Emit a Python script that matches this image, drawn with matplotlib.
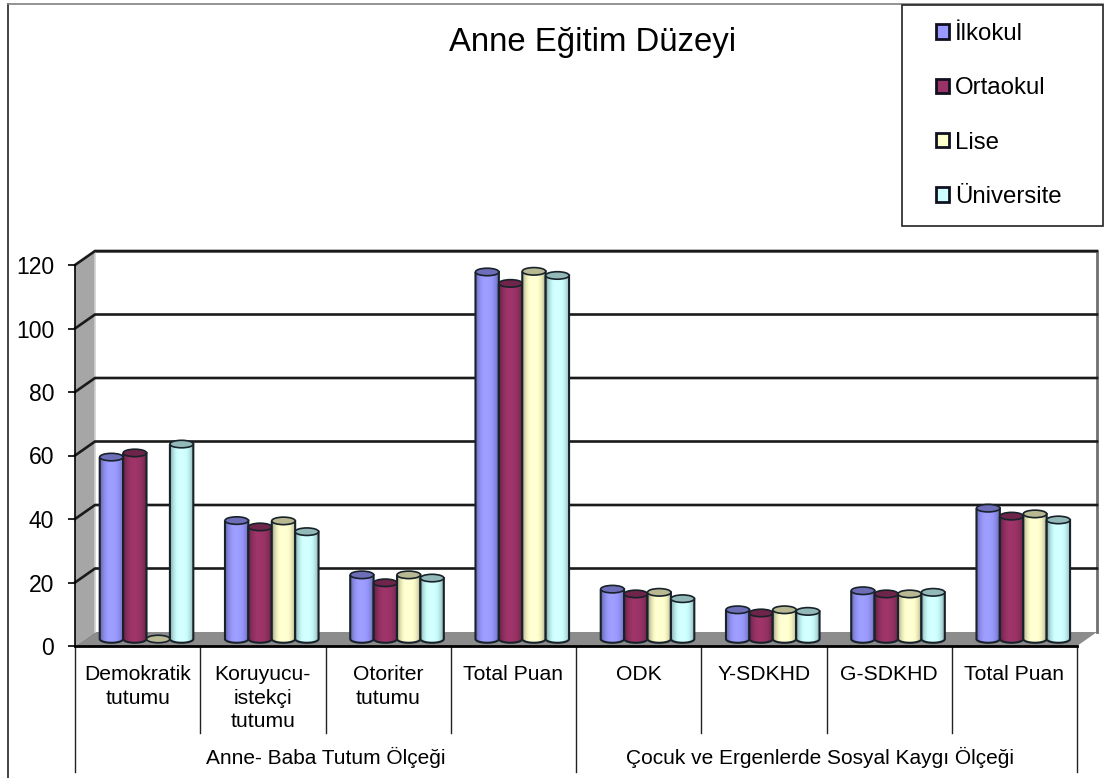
import numpy as np
import matplotlib
matplotlib.use("Agg")
import matplotlib.pyplot as plt
from matplotlib.patches import Polygon, Ellipse, Rectangle, Patch, PathPatch
from matplotlib.path import Path
from matplotlib.colors import to_rgb

plt.rcParams['font.family'] = ['Liberation Sans', 'DejaVu Sans']

title = "Anne Eğitim Düzeyi"
categories = ["Demokratik\ntutumu", "Koruyucu-\nistekçi\ntutumu", "Otoriter\ntutumu", "Total Puan",
              "ODK", "Y-SDKHD", "G-SDKHD", "Total Puan"]
groups = ["Anne- Baba Tutum Ölçeği", "Çocuk ve Ergenlerde Sosyal Kaygı Ölçeği"]
group_centers = [2.0, 5.95]
series = ["İlkokul", "Ortaokul", "Lise", "Üniversite"]
ilkokul = [57.3, 37.3, 20.2, 115.6, 15.7, 9.2, 15.2, 41.2]
ortaokul = [58.6, 35.3, 17.7, 112, 14.2, 8.2, 14.2, 38.7]
lise = [0, 37.2, 20.2, 115.8, 14.7, 9.2, 14.2, 39.4]
universite = [61.4, 33.8, 19.2, 114.5, 12.7, 8.7, 14.7, 37.5]
values = [ilkokul, ortaokul, lise, universite]
colors = ["#9999FF", "#993366", "#FFFFCC", "#CCFFFF"]
yticks = [0, 20, 40, 60, 80, 100, 120]

W, H = 1105, 778
L, R, B, T = 75, 1077, 646, 265          # front plane in pixels
fig = plt.figure(figsize=(W / 100, H / 100), dpi=100, facecolor="white")
ax = fig.add_axes([L / W, 1 - B / H, (R - L) / W, (B - T) / H])
ax.patch.set_visible(False)

sx = (R - L) / 8        # px per category
sy = (B - T) / 120      # px per value
dx, dy = 20 / sx, 14 / sy    # chart depth
bw = 23.4 / sx          # bar width
eh = 7.5 / sy           # cap height
GREY = "#A6A6A6"

# walls and floor
ax.add_patch(Polygon([(0, 0), (dx, dy), (dx, 120 + dy), (0, 120)], fc=GREY, ec="none", zorder=1, clip_on=False))
ax.add_patch(Polygon([(0, 0), (8, 0), (8 + dx, dy), (dx, dy)], fc="#8C8C8C", ec="none", zorder=1, clip_on=False))
ax.plot([dx, 8 + dx, 8 + dx], [120 + dy, 120 + dy, dy], color="#707070", lw=2.0, zorder=1.5, clip_on=False)
ax.plot([dx, dx], [dy, 120 + dy], color="#D0D0D0", lw=1.2, zorder=1.5, clip_on=False)

# gridlines on wall
for v in yticks[1:]:
    ax.plot([0, dx, 8 + dx], [v, v + dy, v + dy], color="#1A1A1A", lw=1.9, zorder=2, clip_on=False,
            solid_joinstyle="miter")


def shade(rgb, f):
    return tuple(min(1, c * f) for c in rgb)


u = np.linspace(0, 1, 64)
prof = 1 - 0.36 * np.abs(2 * u - 1) ** 3 + 0.04 * np.exp(-((u - 0.45) / 0.2) ** 2)

xcen = np.arange(8) + 0.571
z = 3.0
for g in range(8):
    for s, (vals, col) in enumerate(zip(values, colors)):
        v = vals[g]
        rgb = np.array(to_rgb(col))
        x0 = xcen[g] + (s - 2) * bw
        x1 = x0 + bw
        xc = (x0 + x1) / 2
        y0 = dy / 2
        y1 = v + dy / 2
        # cylinder body: side walls, lower half-ellipse
        th = np.linspace(np.pi, 2 * np.pi, 30)
        ex = xc + bw / 2 * np.cos(th)
        ey = y0 + eh / 2 * np.sin(th)
        verts = [(x0, y1)] + list(zip(ex, ey)) + [(x1, y1), (x0, y1)]
        path = Path(verts)
        if v > 0:
            img = np.clip(rgb[None, None, :] * prof[None, :, None], 0, 1)
            im = ax.imshow(img, extent=[x0, x1, y0 - eh, y1], aspect="auto", zorder=z, interpolation="bilinear")
            outline = PathPatch(path, fc="none", ec="#18222A", lw=1.5, zorder=z + 0.1, clip_on=False)
            ax.add_patch(outline)
            im.set_clip_path(path, ax.transData)
            im.set_clip_on(True)
        ax.add_patch(Ellipse((xc, y1), bw, eh, fc=shade(rgb, 0.72), ec="#18222A", lw=1.2, zorder=z + 0.2, clip_on=False))
        z += 0.3

ax.set_xlim(0, 8)
ax.set_ylim(0, 120)

# axes
for side in ("top", "right"):
    ax.spines[side].set_visible(False)
ax.spines["left"].set_linewidth(1.2)
ax.spines["bottom"].set_linewidth(2)
ax.spines["left"].set_zorder(20)
ax.spines["bottom"].set_zorder(20)
ax.set_yticks(yticks)
ax.tick_params(axis="y", length=5, width=1.2, pad=10, labelsize=16.5, colors="black")
ax.set_xticks(np.arange(9))
ax.set_xticklabels([])
ax.tick_params(axis="x", which="major", length=0)
ax.set_xticks(np.arange(8) + 0.5, minor=True)
ax.set_xticklabels(categories, minor=True, fontsize=15.2, linespacing=1.32)
ax.tick_params(axis="x", which="minor", length=0, pad=13.5)

# multi-level separators, in axes-relative pixels below the front plane
ylow = lambda px: -(px - B) / sy
for k in range(9):
    bottom = ylow(772) if k in (0, 4, 8) else ylow(733)
    ax.plot([k, k], [0, bottom], color="#222222", lw=1.0, clip_on=False, zorder=2)
for c, g in zip(group_centers, groups):
    ax.text(c, ylow(757), g, ha="center", va="center", fontsize=15, clip_on=False)

# figure overlay: outer frame, title, legend
ov = fig.add_axes([0, 0, 1, 1], zorder=-1)
ov.set_xlim(0, W)
ov.set_ylim(H, 0)
ov.axis("off")
ov.plot([8, 8], [H, 4], color="#222222", lw=1.2)
ov.plot([8, 1103], [4, 4], color="#808080", lw=1.2)

fig.text(593 / W, 1 - 43 / H, title, ha="center", va="center", fontsize=23.7, color="black",
         fontweight="normal")

fig.add_artist(Rectangle((902 / W, 1 - 226 / H), 201 / W, 221 / H, transform=fig.transFigure,
                         fc="white", ec="#222222", lw=1.2, zorder=5))
handles = [Patch(fc=c, ec="#101020", lw=2.0) for c in colors]
leg = fig.legend(handles, series, loc="center left", bbox_to_anchor=(936 / W, 1 - 115.5 / H),
                 frameon=False, fontsize=17.3, handlelength=0.55, handleheight=0.55,
                 handletextpad=0.25, labelspacing=1.35, borderpad=0, borderaxespad=0)
leg.set_zorder(6)

fig.savefig("out.png", dpi=100)
